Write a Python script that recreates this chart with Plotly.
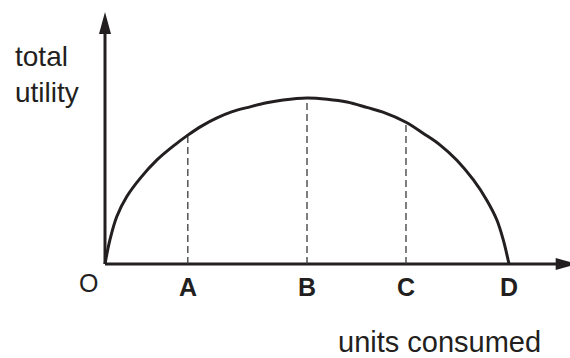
import plotly.graph_objects as go

# total utility curve (O = 0, D = 10)
units = [0, 0.12, 0.29, 0.54, 0.87, 1.28, 1.73, 2.05, 2.4, 2.76, 3.15, 3.59, 4.0,
         4.41, 5.0, 5.5, 5.99, 6.5, 6.88, 7.45, 7.9, 8.29, 8.71, 9.12, 9.45,
         9.70, 9.86, 10.0]
utility = [0, 0.59, 1.17, 1.67, 2.12, 2.57, 2.95, 3.19, 3.42, 3.61, 3.77, 3.89, 3.99,
           4.06, 4.11, 4.08, 4.01, 3.87, 3.76, 3.51, 3.22, 2.95, 2.57, 2.08, 1.58,
           1.09, 0.59, 0]

# points on the x axis
point_labels = ["A", "B", "C", "D"]
point_x = [2.05, 5.0, 7.45, 10.0]
point_y = [3.19, 4.11, 3.51, 0]   # height of the curve there

x_axis_end = 11.7
y_axis_end = 6.24

ink = "#231f20"
font_main = "Liberation Sans, Arial, sans-serif"

fig = go.Figure()

# axes
fig.add_trace(go.Scatter(x=[0, x_axis_end - 0.3], y=[0, 0], mode="lines",
                         line=dict(color=ink, width=3), hoverinfo="skip"))
fig.add_trace(go.Scatter(x=[0, 0], y=[0, y_axis_end - 0.3], mode="lines",
                         line=dict(color=ink, width=3), hoverinfo="skip"))

# dashed drop lines for A, B, C
for px_, py_ in zip(point_x[:3], point_y[:3]):
    fig.add_trace(go.Scatter(x=[px_, px_], y=[0, py_], mode="lines",
                             line=dict(color="#3a3a3a", width=1.3, dash="7px,4px"),
                             hoverinfo="skip"))

# the curve
fig.add_trace(go.Scatter(x=units, y=utility, mode="lines", line_shape="spline",
                         line=dict(color=ink, width=3), hoverinfo="skip"))

# arrow heads
fig.add_shape(type="path", xref="x", yref="y", xsizemode="pixel", ysizemode="pixel",
              xanchor=0, yanchor=y_axis_end, path="M0,0 L-6,-22 L6,-22 Z",
              fillcolor=ink, line=dict(width=0))
fig.add_shape(type="path", xref="x", yref="y", xsizemode="pixel", ysizemode="pixel",
              xanchor=x_axis_end, yanchor=0, path="M0,0 L-22,6 L-22,-6 Z",
              fillcolor=ink, line=dict(width=0))

# labels
fig.add_annotation(x=-0.41, y=-0.48, text="O", showarrow=False,
                   font=dict(family=font_main, size=25, color=ink))
for lab, px_ in zip(point_labels, point_x):
    fig.add_annotation(x=px_, y=-0.56, text="<b>" + lab + "</b>", showarrow=False,
                       font=dict(family=font_main, size=25, color=ink))

fig.add_annotation(x=-2.277, y=4.70, text="total<br>utility", showarrow=False,
                   xanchor="left", align="left",
                   font=dict(family=font_main, size=28, color=ink))
fig.add_annotation(x=8.29, y=-1.93, text="units consumed", showarrow=False,
                   font=dict(family=font_main, size=29, color=ink))

fig.update_xaxes(range=[-2.599, 11.51], visible=False)
fig.update_yaxes(range=[-2.327, 6.535], visible=False)
fig.update_layout(width=570, height=358, margin=dict(l=0, r=0, t=0, b=0),
                  paper_bgcolor="white", plot_bgcolor="white", showlegend=False)

fig.write_html("out.html", config={"displayModeBar": False},
               post_script="document.body.style.margin='0';")
